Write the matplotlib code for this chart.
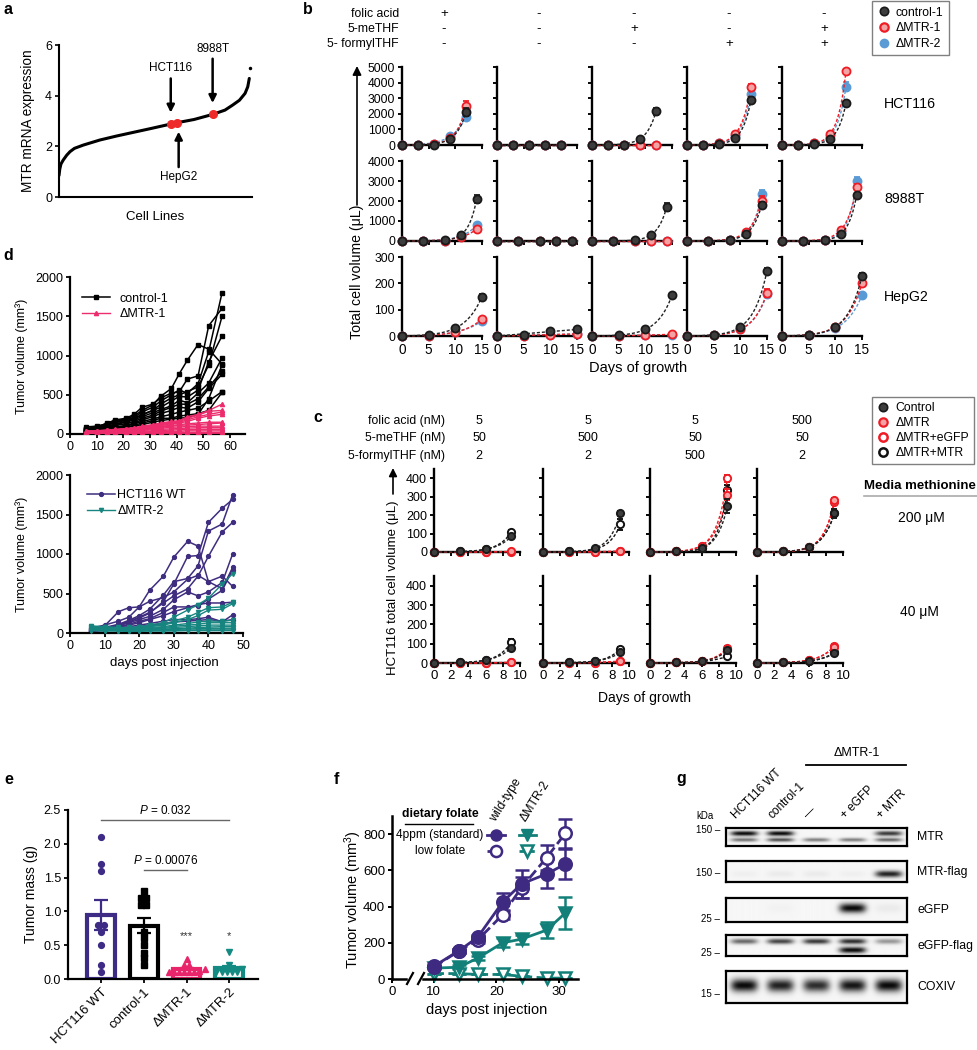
import numpy as np
import matplotlib
matplotlib.use('Agg')
import matplotlib.pyplot as plt
from matplotlib.lines import Line2D

plt.rcParams['font.family'] = ['Liberation Sans', 'DejaVu Sans']
plt.rcParams['mathtext.fontset'] = 'custom'
plt.rcParams['mathtext.rm'] = 'Liberation Sans'
plt.rcParams['mathtext.it'] = 'Liberation Sans:italic'
plt.rcParams['mathtext.bf'] = 'Liberation Sans:bold'

# ---------------- DATA ----------------
# panel a: sorted MTR expression across cell lines (fraction of rank, expression)
a_frac = [0.0, 0.004, 0.01, 0.022, 0.04, 0.057, 0.08, 0.126, 0.212, 0.3, 0.384, 0.48,
          0.579, 0.61, 0.7, 0.796, 0.86, 0.9, 0.935, 0.964, 0.978, 0.986]
a_expr = [0.85, 1.1, 1.3, 1.46, 1.65, 1.79, 1.92, 2.05, 2.25, 2.41, 2.55, 2.71,
          2.88, 2.93, 3.06, 3.26, 3.43, 3.63, 3.82, 4.09, 4.35, 4.68]
a_outlier_frac = [0.99]
a_outlier_expr = [5.1]
a_names = ['HCT116', 'HepG2', '8988T']
a_hl_frac = [0.579, 0.610, 0.796]
a_hl_expr = [2.88, 2.93, 3.26]

# panel b
b_cell_lines = ['HCT116', '8988T', 'HepG2']
b_folic = ['+', '-', '-', '-', '-']
b_methf = ['-', '-', '+', '-', '+']
b_formyl = ['-', '-', '-', '+', '+']
b_days = [[0, 3, 6, 9, 12], [0, 4, 8, 11, 14], [0, 5, 10, 15]]
b_ymax = [5000, 4000, 300]
b_ystep = [1000, 1000, 100]
b_hct_ctrl = [[0, 0, 30, 400, 2100], [0, 0, 0, 0, 0], [0, 0, 30, 400, 2150], [0, 0, 80, 450, 2900], [0, 0, 60, 400, 2700]]
b_hct_m1 = [[0, 0, 40, 450, 2500], [0, 0, 0, 0, 0], [0, 0, 0, 0, 0], [0, 0, 120, 700, 3750], [0, 0, 130, 700, 4750]]
b_hct_m2 = [[0, 0, 40, 550, 1800], [0, 0, 0, 0, 0], [0, 0, 0, 0, 0], [0, 0, 100, 600, 3250], [0, 0, 110, 600, 3750]]
b_hct_err = {'ctrl': [250, 0, 250, 200, 150], 'm1': [350, 0, 0, 150, 150], 'm2': [150, 0, 0, 200, 300]}
b_988_ctrl = [[0, 0, 50, 300, 2100], [0, 0, 0, 0, 0], [0, 0, 50, 300, 1700], [0, 0, 50, 350, 1800], [0, 0, 50, 350, 2300]]
b_988_m1 = [[0, 0, 0, 200, 600], [0, 0, 0, 0, 0], [0, 0, 0, 0, 0], [0, 0, 50, 450, 2000], [0, 0, 50, 550, 2700]]
b_988_m2 = [[0, 0, 0, 250, 800], [0, 0, 0, 0, 0], [0, 0, 0, 0, 0], [0, 0, 50, 400, 2350], [0, 0, 50, 450, 3000]]
b_988_err = {'ctrl': [200, 0, 200, 150, 100], 'm1': [100, 0, 0, 250, 150], 'm2': [100, 0, 0, 200, 200]}
b_hep_ctrl = [[0, 3, 30, 150], [0, 3, 18, 25], [0, 3, 25, 155], [0, 3, 35, 248], [0, 3, 35, 228]]
b_hep_m1 = [[0, 0, 15, 65], [0, 0, 5, 8], [0, 0, 3, 7], [0, 2, 25, 165], [0, 3, 35, 200]]
b_hep_m2 = [[0, 0, 15, 58], [0, 0, 5, 8], [0, 0, 3, 5], [0, 2, 25, 160], [0, 2, 30, 155]]
b_hep_err = {'ctrl': [8, 3, 8, 10, 12], 'm1': [5, 2, 2, 15, 8], 'm2': [5, 2, 2, 10, 5]}

# panel c
c_folic = ['5', '5', '5', '500']
c_methf = ['50', '500', '50', '50']
c_formyl = ['2', '2', '500', '2']
c_media = ['200 μM', '40 μM']
c_days = [0, 3, 6, 9]
c_ctrl = [[0, 3, 15, 85], [0, 3, 20, 210], [0, 3, 20, 250], [0, 3, 25, 210],
          [0, 3, 15, 80], [0, 3, 10, 55], [0, 3, 10, 65], [0, 3, 10, 50]]
c_dmtr = [[0, 0, 0, 3], [0, 0, 0, 5], [0, 3, 35, 310], [0, 3, 25, 280],
          [0, 0, 0, 3], [0, 0, 0, 8], [0, 3, 10, 80], [0, 3, 15, 85]]
c_egfp = [[0, 0, 0, 2], [0, 0, 0, 3], [0, 3, 35, 400], [0, 3, 25, 270],
          [0, 0, 0, 3], [0, 0, 0, 10], [0, 3, 10, 75], [0, 3, 15, 90]]
c_mtr = [[0, 3, 15, 110], [0, 3, 15, 150], [0, 3, 20, 335], [0, 3, 25, 210],
         [0, 3, 15, 110], [0, 3, 10, 75], [0, 3, 8, 35], [0, 3, 10, 55]]
c_err_ctrl = [10, 15, 40, 25, 10, 8, 10, 8]
c_err_dmtr = [2, 3, 30, 15, 2, 3, 8, 10]
c_err_egfp = [2, 3, 20, 15, 2, 3, 8, 10]
c_err_mtr = [10, 30, 30, 20, 15, 10, 5, 8]

# panel d
d_days_top = [6, 10, 14, 17, 21, 24, 27, 31, 34, 38, 41, 44, 48, 52, 57]
d_control1 = [
    [90, 100, 130, 170, 190, 230, 300, 370, 480, 580, 770, 940, 1140, 1080, 890],
    [70, 90, 140, 180, 200, 250, 340, 380, 460, 520, 540, 700, 740, 1380, 1600],
    [60, 80, 120, 160, 180, 210, 280, 340, 420, 500, 560, 520, 640, 1050, 1800],
    [60, 80, 110, 150, 170, 200, 250, 300, 380, 460, 500, 540, 600, 880, 1500],
    [50, 70, 100, 130, 160, 190, 240, 300, 340, 420, 480, 470, 560, 920, 1250],
    [50, 70, 90, 120, 150, 180, 220, 270, 310, 360, 430, 400, 520, 650, 970],
    [40, 60, 80, 110, 130, 160, 200, 240, 290, 340, 380, 380, 450, 600, 800],
    [40, 50, 70, 90, 110, 140, 180, 220, 260, 300, 340, 330, 410, 580, 760],
    [30, 50, 60, 80, 100, 130, 160, 190, 220, 250, 280, 300, 330, 420, 540],
    [30, 40, 50, 60, 80, 100, 120, 150, 170, 190, 200, 210, 250, 450, 880],
    [30, 40, 60, 70, 90, 110, 140, 170, 200, 200, 230, 240, 260, 300, 530],
]
d_dmtr1 = [
    [40, 40, 50, 60, 70, 80, 100, 120, 140, 160, 170, 220, 250, 300, 380],
    [40, 40, 50, 55, 65, 75, 90, 110, 130, 150, 160, 200, 240, 290, 300],
    [30, 35, 45, 50, 60, 70, 85, 100, 120, 140, 150, 180, 220, 250, 280],
    [30, 30, 40, 50, 55, 65, 80, 95, 110, 130, 140, 160, 200, 230, 250],
    [30, 30, 35, 40, 50, 60, 70, 85, 100, 110, 120, 130, 140, 150, 150],
    [20, 25, 30, 35, 45, 55, 65, 75, 90, 100, 110, 115, 120, 130, 140],
    [20, 20, 25, 30, 35, 45, 55, 65, 75, 85, 90, 95, 100, 100, 100],
    [20, 20, 20, 25, 30, 35, 45, 55, 60, 65, 70, 75, 80, 80, 80],
    [15, 15, 20, 20, 25, 30, 35, 40, 45, 50, 55, 55, 60, 60, 60],
    [10, 10, 15, 15, 20, 20, 25, 30, 30, 35, 35, 40, 40, 40, 40],
    [10, 10, 10, 10, 15, 15, 15, 20, 20, 20, 20, 20, 20, 20, 20],
    [5, 5, 5, 5, 10, 10, 10, 10, 10, 10, 10, 10, 10, 10, 10],
]
d_days_bot = [6, 10, 14, 17, 20, 23, 27, 30, 34, 37, 40, 44, 47]
d_wt = [
    [50, 70, 110, 160, 220, 300, 480, 650, 690, 850, 1290, 1380, 1750],
    [60, 100, 150, 200, 330, 540, 720, 960, 1160, 1100, 650, 720, 590],
    [40, 60, 100, 140, 190, 250, 400, 620, 970, 980, 1400, 1580, 1690],
    [50, 90, 270, 320, 330, 400, 450, 520, 680, 730, 650, 560, 830],
    [40, 60, 100, 150, 200, 260, 380, 470, 560, 720, 970, 1280, 1400],
    [40, 60, 90, 130, 170, 210, 300, 420, 520, 470, 520, 640, 1000],
    [30, 50, 80, 110, 150, 180, 260, 330, 330, 340, 430, 540, 800],
    [30, 50, 70, 100, 130, 170, 220, 270, 320, 360, 380, 380, 390],
    [20, 40, 60, 80, 100, 120, 150, 170, 170, 180, 200, 140, 230],
    [20, 30, 50, 60, 80, 100, 120, 140, 150, 160, 170, 150, 170],
]
d_dmtr2 = [
    [90, 80, 70, 70, 80, 100, 130, 200, 290, 360, 440, 620, 750],
    [80, 70, 60, 60, 70, 90, 110, 150, 200, 260, 320, 330, 390],
    [70, 60, 50, 55, 65, 80, 100, 130, 170, 220, 290, 300, 370],
    [60, 60, 50, 50, 60, 70, 80, 100, 120, 140, 150, 150, 160],
    [60, 50, 45, 45, 50, 60, 70, 85, 100, 110, 130, 130, 130],
    [50, 50, 40, 40, 45, 50, 60, 70, 80, 90, 100, 100, 100],
    [50, 40, 35, 35, 40, 45, 50, 55, 60, 70, 75, 80, 80],
    [40, 40, 30, 30, 35, 35, 40, 45, 50, 55, 60, 60, 60],
    [40, 30, 30, 25, 30, 30, 30, 35, 35, 40, 40, 40, 40],
    [30, 25, 25, 20, 20, 25, 25, 25, 30, 30, 30, 30, 30],
]

# panel e
e_groups = ['HCT116 WT', 'control-1', 'ΔMTR-1', 'ΔMTR-2']
e_means = [0.95, 0.79, 0.15, 0.16]
e_sem = [0.22, 0.11, 0.02, 0.03]
e_pts_wt = [2.1, 1.7, 1.6, 0.8, 0.8, 0.7, 0.5, 0.2, 0.1]
e_pts_ctrl = [1.3, 1.2, 1.2, 1.1, 1.1, 0.7, 0.6, 0.5, 0.39, 0.31, 0.2]
e_pts_m1 = [0.3, 0.2, 0.2, 0.15, 0.12, 0.1, 0.1, 0.1, 0.1, 0.1, 0.1]
e_pts_m2 = [0.4, 0.2, 0.15, 0.1, 0.1, 0.1, 0.1, 0.1]
e_pvals = [('0.032', 0, 3, 2.35), ('0.00076', 1, 2, 1.61)]
e_stars = ['', '', '***', '*']

# panel f
f_days = [10, 14, 17, 21, 24, 28, 31]
f_wt_std = [70, 155, 230, 425, 525, 580, 635]
f_wt_std_err = [0, 10, 15, 50, 75, 80, 85]
f_wt_low = [65, 155, 215, 355, 505, 670, 805]
f_wt_low_err = [0, 10, 15, 25, 60, 70, 80]
f_m2_std = [60, 65, 115, 200, 220, 270, 365]
f_m2_std_err = [5, 10, 10, 25, 25, 45, 90]
f_m2_low = [30, 30, 25, 25, 15, 5, 5]
f_m2_low_err = [0, 0, 0, 0, 0, 0, 0]

# panel g (western blot band intensities per lane)
g_lanes = ['HCT116 WT', 'control-1', '—', '+ eGFP', '+ MTR']
g_blot_names = ['MTR', 'MTR-flag', 'eGFP', 'eGFP-flag', 'COXIV']
g_kda = ['150', '150', '25', '25', '15']
g_mtr_upper = [1.0, 1.0, 0.0, 0.0, 0.8]
g_mtr_lower = [0.55, 0.7, 0.5, 0.5, 0.6]
g_mtrflag = [0.03, 0.05, 0.05, 0.03, 0.9]
g_egfp = [0.0, 0.02, 0.0, 1.0, 0.05]
g_egfpflag_upper = [0.6, 0.75, 0.8, 0.85, 0.4]
g_egfpflag_lower = [0.0, 0.0, 0.0, 1.0, 0.0]
g_coxiv = [1.0, 0.9, 0.85, 0.95, 1.0]

# ---------------- FIGURE ----------------
W, H = 977, 1050
fig = plt.figure(figsize=(W / 100, H / 100), dpi=100)


def add_ax(x0, y0, x1, y1, **kw):
    return fig.add_axes([x0 / W, 1 - y1 / H, (x1 - x0) / W, (y1 - y0) / H], **kw)


def style(ax, lw=1.6, fs=8, tl=3):
    for s in ['top', 'right']:
        ax.spines[s].set_visible(False)
    for s in ['left', 'bottom']:
        ax.spines[s].set_linewidth(lw)
    ax.tick_params(width=lw * 0.8, length=tl, labelsize=fs, pad=2)


def exp_curve(t, y):
    t = np.asarray(t, float)
    y = np.asarray(y, float)
    tt = np.linspace(0, t[-1], 80)
    if y[-1] <= 0:
        return tt, np.zeros_like(tt)
    t2, y2 = t[-1], y[-1]
    idx = [i for i in range(len(y) - 1) if y[i] > 0]
    k = 0.3
    if idx:
        i = idx[-1]
        t1, y1 = t[i], y[i]
        r = y2 / y1
        f = lambda kk: np.expm1(kk * t2) / np.expm1(kk * t1) - r
        lo, hi = 1e-4, 3.0
        if f(lo) > 0:
            k = lo
        else:
            for _ in range(60):
                mid = 0.5 * (lo + hi)
                if f(mid) > 0:
                    hi = mid
                else:
                    lo = mid
            k = 0.5 * (lo + hi)
    A = y2 / np.expm1(k * t2)
    return tt, A * np.expm1(k * tt)


# ---- panel a ----
axa = add_ax(59, 45, 252, 197)
style(axa, lw=1.5, fs=9)
axa.plot(a_frac, a_expr, color='black', lw=2.2, solid_capstyle='round')
axa.plot(a_outlier_frac, a_outlier_expr, 'o', color='black', ms=1.5)
axa.plot(a_hl_frac, a_hl_expr, 'o', color='#ee2a2a', ms=5.5, zorder=3)
axa.set_xlim(0, 1)
axa.set_ylim(0, 6)
axa.set_yticks([0, 2, 4, 6])
axa.set_xticks([])
arrow_kw = dict(arrowstyle='-|>', lw=1.8, color='black', mutation_scale=11, shrinkA=1, shrinkB=0)
for name, fx, ey in zip(a_names, a_hl_frac, a_hl_expr):
    if name == 'HepG2':
        axa.annotate(name, xy=(fx + 0.01, ey - 0.35), xytext=(fx + 0.01, ey - 2.15),
                     ha='center', va='center', fontsize=8.5, arrowprops=arrow_kw)
    else:
        up = 2.2 if name == 'HCT116' else 2.6
        axa.annotate(name, xy=(fx, ey + 0.45), xytext=(fx, ey + up),
                     ha='center', va='center', fontsize=8.5, arrowprops=arrow_kw)

# ---- panel b ----
b_cols_x = [402, 497, 592, 687, 782]
b_rows_y = [(67, 145), (161, 241), (257, 336)]
b_data = [(b_hct_ctrl, b_hct_m1, b_hct_m2, b_hct_err),
          (b_988_ctrl, b_988_m1, b_988_m2, b_988_err),
          (b_hep_ctrl, b_hep_m1, b_hep_m2, b_hep_err)]
col_ctrl = dict(mfc='#3d3d3d', mec='#1a1a1a', ecolor='#1a1a1a', lc='#222222')
col_m1 = dict(mfc='#f3a3a3', mec='#ee1c25', ecolor='#ee1c25', lc='#ee1c25')
col_m2 = dict(mfc='#5b9bd5', mec='#5b9bd5', ecolor='#5b9bd5', lc='#5b9bd5')
for r in range(3):
    ctrl, m1, m2, errs = b_data[r]
    days = b_days[r]
    for c in range(5):
        ax = add_ax(b_cols_x[c], b_rows_y[r][0], b_cols_x[c] + 80, b_rows_y[r][1])
        style(ax, lw=1.7, fs=8)
        for series, key, st, z in [(m2, 'm2', col_m2, 3), (m1, 'm1', col_m1, 4), (ctrl, 'ctrl', col_ctrl, 5)]:
            yv = series[c]
            tt, yy = exp_curve(days, yv)
            ax.plot(tt, yy, ls=(0, (2.2, 1.4)), lw=1.0, color=st['lc'], zorder=z - 0.5, clip_on=False)
            err = np.r_[np.zeros(len(yv) - 1), errs[key][c]]
            ax.errorbar(days, yv, yerr=err, fmt='o', ms=5.8, mfc=st['mfc'], mec=st['mec'], mew=1.3,
                        ecolor=st['ecolor'], elinewidth=1.2, capsize=2, clip_on=False, zorder=z)
        ax.set_xlim(0, 15)
        ax.set_ylim(0, b_ymax[r])
        ax.set_xticks([0, 5, 10, 15])
        ax.set_yticks(np.arange(0, b_ymax[r] + 1, b_ystep[r]))
        if r < 2:
            ax.set_xticklabels([])
        if c > 0:
            ax.set_yticklabels([])
        ax.tick_params(axis='x', labelsize=9.8)
        ax.tick_params(axis='y', labelsize=8.7)

h_ctrl = Line2D([], [], ls='none', marker='o', ms=6, mfc='#3d3d3d', mec='#1a1a1a', mew=1.2)
h_m1 = Line2D([], [], ls='none', marker='o', ms=6, mfc='#f3a3a3', mec='#ee1c25', mew=1.6)
h_m2 = Line2D([], [], ls='none', marker='o', ms=6, mfc='#5b9bd5', mec='#5b9bd5')
lg = fig.legend([h_ctrl, h_m1, h_m2], ['control-1', 'ΔMTR-1', 'ΔMTR-2'], loc='upper left',
                bbox_to_anchor=(872 / W, 1 - 1 / H), fontsize=8.8, frameon=True, fancybox=False,
                edgecolor='#808080', framealpha=1, borderpad=0.45, labelspacing=0.3,
                handlelength=1.0, handletextpad=0.5, borderaxespad=0)
lg.get_frame().set_linewidth(1.0)

# ---- panel c ----
c_cols_x = [434, 543, 650, 757]
c_rows_y = [(469, 552), (576, 663)]
c_styles = [
    (c_mtr, c_err_mtr, dict(mfc='white', mec='#111111', lc='#111111'), 3),
    (c_egfp, c_err_egfp, dict(mfc='white', mec='#ee1c25', lc='#ee1c25'), 4),
    (c_dmtr, c_err_dmtr, dict(mfc='#f3a3a3', mec='#ee1c25', lc='#ee1c25'), 5),
    (c_ctrl, c_err_ctrl, dict(mfc='#3d3d3d', mec='#1a1a1a', lc='#222222'), 6),
]
for r in range(2):
    for c in range(4):
        k = r * 4 + c
        ax = add_ax(c_cols_x[c], c_rows_y[r][0], c_cols_x[c] + 86, c_rows_y[r][1])
        style(ax, lw=1.7, fs=9)
        for data, err, st, z in c_styles:
            yv = data[k]
            tt, yy = exp_curve(c_days, yv)
            ax.plot(tt, yy, ls=(0, (2.2, 1.4)), lw=1.0, color=st['lc'], zorder=z - 0.5, clip_on=False)
            e = np.r_[np.zeros(len(yv) - 1), err[k]]
            ax.errorbar(c_days, yv, yerr=e, fmt='o', ms=5.2, mfc=st['mfc'], mec=st['mec'], mew=1.4,
                        ecolor=st['mec'], elinewidth=1.2, capsize=2, clip_on=False, zorder=z)
        ax.set_xlim(0, 10)
        ax.set_ylim(0, 450)
        ax.set_xticks([0, 2, 4, 6, 8, 10])
        ax.set_yticks([0, 100, 200, 300, 400])
        if r == 0:
            ax.set_xticklabels([])
        if c > 0:
            ax.set_yticklabels([])
        ax.tick_params(axis='x', labelsize=9.5)

hc = [Line2D([], [], ls='none', marker='o', ms=6, mfc='#3d3d3d', mec='#1a1a1a', mew=1.2),
      Line2D([], [], ls='none', marker='o', ms=6, mfc='#f3a3a3', mec='#ee1c25', mew=1.6),
      Line2D([], [], ls='none', marker='o', ms=6, mfc='white', mec='#ee1c25', mew=1.8),
      Line2D([], [], ls='none', marker='o', ms=6, mfc='white', mec='#111111', mew=1.8)]
lg2 = fig.legend(hc, ['Control', 'ΔMTR', 'ΔMTR+eGFP', 'ΔMTR+MTR'], loc='upper left',
                 bbox_to_anchor=(872 / W, 1 - 397 / H), fontsize=8.8, frameon=True, fancybox=False,
                 edgecolor='#808080', framealpha=1, borderpad=0.4, labelspacing=0.25,
                 handlelength=1.0, handletextpad=0.5, borderaxespad=0)
lg2.get_frame().set_linewidth(1.0)

# ---- panel d ----
axd1 = add_ax(70, 277, 245, 434)
style(axd1, lw=1.6, fs=9)
for i, yv in enumerate(d_control1):
    axd1.plot(d_days_top, yv, '-s', color='black', lw=1.1, ms=3, label='control-1' if i == 0 else None, zorder=2)
for i, yv in enumerate(d_dmtr1):
    axd1.plot(d_days_top, yv, '-^', color='#ec2c6c', lw=1.0, ms=3, label='ΔMTR-1' if i == 0 else None, zorder=3)
axd1.set_xlim(0, 65.6)
axd1.set_ylim(0, 2000)
axd1.set_xticks(range(0, 61, 10))
axd1.set_yticks(range(0, 2001, 500))
axd1.legend(loc='upper left', bbox_to_anchor=(0.07, 0.9), frameon=False, fontsize=9,
            handlelength=2.2, handletextpad=0.8, labelspacing=0.3, borderpad=0, borderaxespad=0)

axd2 = add_ax(70, 475, 243, 633)
style(axd2, lw=1.6, fs=9)
for i, yv in enumerate(d_wt):
    axd2.plot(d_days_bot, yv, '-o', color='#3f2d80', lw=1.1, ms=2.8, label='HCT116 WT' if i == 0 else None, zorder=2)
for i, yv in enumerate(d_dmtr2):
    axd2.plot(d_days_bot, yv, '-v', color='#17857f', lw=1.0, ms=3, label='ΔMTR-2' if i == 0 else None, zorder=3)
axd2.set_xlim(0, 50)
axd2.set_ylim(0, 2000)
axd2.set_xticks(range(0, 51, 10))
axd2.set_yticks(range(0, 2001, 500))
axd2.legend(loc='upper left', bbox_to_anchor=(0.1, 0.91), frameon=False, fontsize=9,
            handlelength=2.2, handletextpad=0.2, labelspacing=0.3, borderpad=0, borderaxespad=0)

# ---- panel e ----
axe = add_ax(68, 810, 258, 979)
style(axe, lw=1.6, fs=9)
e_colors = ['#3d2b85', '#000000', '#e8246a', '#138a82']
e_marks = ['o', 's', '^', 'v']
e_pts = [e_pts_wt, e_pts_ctrl, e_pts_m1, e_pts_m2]
xs = np.arange(len(e_groups))
axe.bar(xs, e_means, width=0.65, facecolor='white', edgecolor=e_colors, linewidth=3, zorder=1)
for i in range(len(e_groups)):
    axe.errorbar(xs[i], e_means[i], yerr=e_sem[i], fmt='none', ecolor=e_colors[i],
                 elinewidth=1.6, capsize=5, capthick=1.6, zorder=2)
    vals = np.asarray(e_pts[i])
    order = np.argsort(vals)
    clusters = []
    for j in order:
        if clusters and abs(vals[j] - vals[clusters[-1][0]]) < 0.06:
            clusters[-1].append(j)
        else:
            clusters.append([j])
    offs = np.zeros(len(vals))
    for cl in clusters:
        n = len(cl)
        for kk, j in enumerate(cl):
            offs[j] = (kk - (n - 1) / 2) * 0.12
    axe.plot(xs[i] + offs, vals, ls='none', marker=e_marks[i], color=e_colors[i], ms=4.2, zorder=3)
    if e_stars[i]:
        axe.text(xs[i], 0.56, e_stars[i], ha='center', va='bottom', fontsize=8, color='#333333')
for p, i0, i1, yv in e_pvals:
    axe.plot([xs[i0], xs[i1]], [yv, yv], color='#666666', lw=1.0)
    axe.text((xs[i0] + xs[i1]) / 2, yv + 0.05, r'$\it{P}$ = ' + p, ha='center', va='bottom', fontsize=8.5)
axe.set_xlim(-0.77, 3.67)
axe.set_ylim(0, 2.5)
axe.set_yticks([0, 0.5, 1.0, 1.5, 2.0, 2.5])
axe.set_yticklabels(['0.0', '0.5', '1.0', '1.5', '2.0', '2.5'])
axe.set_xticks(xs)
axe.set_xticklabels(e_groups, rotation=45, ha='right', rotation_mode='anchor', fontsize=9.5)
axe.set_ylabel('Tumor mass (g)', fontsize=10, labelpad=4)

# ---- panel f ----
purple = '#3f2a82'
teal = '#128078'
fL = add_ax(392, 816, 406, 979)
fR = add_ax(423, 816, 578, 979)
for ax in (fL, fR):
    style(ax, lw=1.8, fs=9.5)
    ax.set_ylim(0, 900)
fL.set_xlim(0, 2.2)
fL.set_xticks([0])
fL.set_yticks([0, 200, 400, 600, 800])
fR.set_xlim(8.3, 33)
fR.set_xticks([10, 20, 30])
fR.spines['left'].set_visible(False)
fR.set_yticks([])
series_f = [
    (f_m2_low, f_m2_low_err, 'v', teal, 'white', '--'),
    (f_m2_std, f_m2_std_err, 'v', teal, teal, '-'),
    (f_wt_low, f_wt_low_err, 'o', purple, 'white', '--'),
    (f_wt_std, f_wt_std_err, 'o', purple, purple, '-'),
]
for yv, er, mk, colr, fc, ls in series_f:
    fR.errorbar(f_days, yv, yerr=er, fmt=mk, ls=ls, color=colr, mfc=fc, mec=colr, mew=1.8,
                ms=9, lw=2.0, elinewidth=1.8, capsize=5, capthick=1.8, clip_on=False)
fL.tick_params(axis='y', labelsize=9.5)

# ---- panel g ----
g_box_x = (726, 907)
g_box_y = [(828, 846), (861, 882), (898, 922), (935, 956), (971, 1003)]
g_bands = [
    [(0.30, 0.14, g_mtr_upper), (0.66, 0.11, g_mtr_lower)],
    [(0.62, 0.16, g_mtrflag)],
    [(0.42, 0.2, g_egfp)],
    [(0.30, 0.13, g_egfpflag_upper), (0.72, 0.15, g_egfpflag_lower)],
    [(0.45, 0.2, g_coxiv)],
]
for bi, (y0, y1) in enumerate(g_box_y):
    ax = add_ax(g_box_x[0], y0, g_box_x[1], y1)
    nx, ny = 360, max(40, (y1 - y0) * 3)
    X, Y = np.meshgrid(np.linspace(-0.5, 4.5, nx), np.linspace(0, 1, ny))
    dark = np.zeros_like(X)
    for yc, sy, ints in g_bands[bi]:
        for lane, amp in enumerate(ints):
            if amp <= 0:
                continue
            dark += amp * np.exp(-np.abs((X - lane) / 0.37) ** 4) * np.exp(-((Y - yc) / sy) ** 2)
    img = 0.965 - 0.93 * np.clip(dark, 0, 1)
    ax.imshow(img, cmap='gray', vmin=0, vmax=1, extent=(-0.5, 4.5, 1, 0), aspect='auto',
              interpolation='bilinear')
    ax.set_xticks([])
    ax.set_yticks([])
    for s in ax.spines.values():
        s.set_linewidth(1.6)
        s.set_color('black')

# ---------------- OVERLAY (labels, annotations) ----------------
ov = fig.add_axes([0, 0, 1, 1], zorder=10)
ov.set_xlim(0, W)
ov.set_ylim(H, 0)
ov.axis('off')
ov.patch.set_alpha(0)

for lab, x, y in [('a', 4, 10), ('b', 303, 9), ('c', 313, 417), ('d', 3, 255),
                  ('e', 4, 779), ('f', 334, 779), ('g', 676, 779)]:
    ov.text(x, y, lab, fontsize=11.5, fontweight='bold', ha='left', va='center')

# a labels
ov.text(28, 121, 'MTR mRNA expression', rotation=90, ha='center', va='center', fontsize=9.8)
ov.text(155, 217, 'Cell Lines', ha='center', va='center', fontsize=9.5)

# b header
for txt, y in [('folic acid', 14), ('5-meTHF', 29), ('5- formylTHF', 44)]:
    ov.text(399, y, txt, ha='right', va='center', fontsize=8.8)
for c in range(5):
    xc = b_cols_x[c] + 42
    for sgn, y in [(b_folic[c], 14), (b_methf[c], 29), (b_formyl[c], 44)]:
        ov.text(xc, y, sgn, ha='center', va='center', fontsize=9.5)
for name, y in zip(b_cell_lines, [104, 199, 297]):
    ov.text(884, y, name, ha='left', va='center', fontsize=10.2)
ov.text(357, 272, 'Total cell volume (μL)', rotation=90, ha='center', va='center', fontsize=10.2)
ov.annotate('', xy=(357, 66), xytext=(357, 205),
            arrowprops=dict(arrowstyle='-|>', color='black', lw=1.2, mutation_scale=13, shrinkA=0, shrinkB=0))
ov.text(638, 368, 'Days of growth', ha='center', va='center', fontsize=10.5)

# c header
for txt, y in [('folic acid (nM)', 421), ('5-meTHF (nM)', 438), ('5-formylTHF (nM)', 456)]:
    ov.text(445, y, txt, ha='right', va='center', fontsize=8.8)
for c in range(4):
    xc = c_cols_x[c] + 45
    for v, y in [(c_folic[c], 421), (c_methf[c], 438), (c_formyl[c], 456)]:
        ov.text(xc, y, v, ha='center', va='center', fontsize=9)
ov.text(393, 588, 'HCT116 total cell volume (μL)', rotation=90, ha='center', va='center', fontsize=9.5)
ov.annotate('', xy=(393, 468), xytext=(393, 494),
            arrowprops=dict(arrowstyle='-|>', color='black', lw=1.2, mutation_scale=12, shrinkA=0, shrinkB=0))
ov.text(644, 698, 'Days of growth', ha='center', va='center', fontsize=10)
ov.text(920, 486, 'Media methionine', ha='center', va='center', fontsize=9.5, fontweight='bold')
ov.plot([864, 977], [496, 496], color='#aaaaaa', lw=1.2)
ov.text(921, 518, c_media[0], ha='center', va='center', fontsize=10)
ov.text(919, 612, c_media[1], ha='center', va='center', fontsize=10)

# d labels
ov.text(22, 356, 'Tumor volume (mm³)', rotation=90, ha='center', va='center', fontsize=9)
ov.text(22, 554, 'Tumor volume (mm³)', rotation=90, ha='center', va='center', fontsize=9)
ov.text(164, 663, 'days post injection', ha='center', va='center', fontsize=9.5)

# f labels & legend
ov.text(353, 900, 'Tumor volume (mm$^{3}$)', rotation=90, ha='center', va='center', fontsize=10.5)
ov.text(487, 1010, 'days post injection', ha='center', va='center', fontsize=10.5)
for bx in (410, 421):
    ov.plot([bx - 3, bx + 3], [984, 973], color='black', lw=1.6, clip_on=False)
ov.text(440, 814, 'dietary folate', ha='center', va='center', fontsize=8.8, fontweight='bold')
ov.plot([405, 473], [824, 824], color='black', lw=1.0)
ov.text(483, 835, '4ppm (standard)', ha='right', va='center', fontsize=8.6)
ov.text(440, 851, 'low folate', ha='center', va='center', fontsize=8.6)
ov.text(498, 824, 'wild-type', rotation=58, ha='left', va='bottom', rotation_mode='anchor', fontsize=8.8)
ov.text(528, 824, 'ΔMTR-2', rotation=58, ha='left', va='bottom', rotation_mode='anchor', fontsize=8.8)
ov.plot([487, 505], [835, 835], color=purple, lw=2)
ov.plot([496], [835], 'o', color=purple, ms=8)
ov.plot([519, 536], [835, 835], color=teal, lw=2)
ov.plot([527], [835], 'v', color=teal, ms=8)
ov.plot([487, 505], [851, 851], color=purple, lw=2, ls=(0, (2, 1.5)))
ov.plot([496], [851], 'o', mfc='white', mec=purple, mew=1.8, ms=8)
ov.plot([519, 536], [851, 851], color=teal, lw=2, ls=(0, (2, 1.5)))
ov.plot([527], [851], 'v', mfc='white', mec=teal, mew=1.8, ms=8)

# g labels
ov.text(857, 753, 'ΔMTR-1', ha='center', va='center', fontsize=9)
ov.plot([806, 906], [765, 765], color='black', lw=1.3)
for i, lab in enumerate(g_lanes):
    lx = g_box_x[0] + (i + 0.5) / 5 * (g_box_x[1] - g_box_x[0])
    ov.text(lx - 6, 821, lab, rotation=45, ha='left', va='bottom', rotation_mode='anchor', fontsize=8.5)
ov.text(705, 816, 'kDa', ha='center', va='center', fontsize=7)
for (y0, y1), kd, nm, ym in zip(g_box_y, g_kda, g_blot_names, [830, 873, 919, 953, 994]):
    ov.text(720, ym, kd + ' –', ha='right', va='center', fontsize=7)
    ov.text(917, (y0 + y1) / 2, nm, ha='left', va='center', fontsize=8.8)

fig.savefig('out.png', dpi=100)
